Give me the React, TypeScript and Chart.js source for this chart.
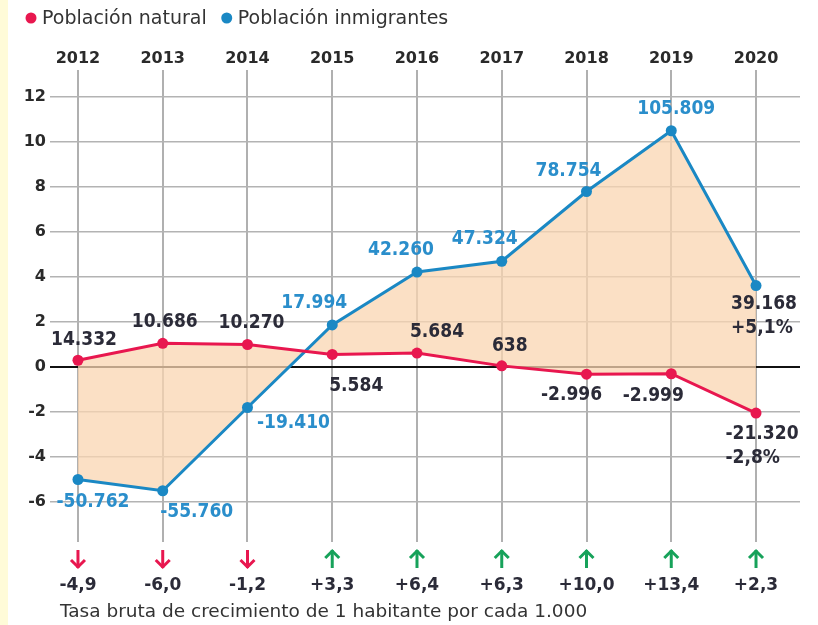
import React, { useEffect, useRef } from "react";
import { Chart, registerables } from "chart.js";

Chart.register(...registerables);

// ---------- data ----------
const years = ["2012", "2013", "2014", "2015", "2016", "2017", "2018", "2019", "2020"];
const natural = [0.3, 1.05, 1.0, 0.56, 0.62, 0.05, -0.32, -0.3, -2.05];
const immigrants = [-5.0, -5.5, -1.8, 1.87, 4.22, 4.7, 7.8, 10.5, 3.62];
const naturalLabels = [["14.332"], ["10.686"], ["10.270"], ["5.584"], ["5.684"], ["638"], ["-2.996"], ["-2.999"], ["-21.320", "-2,8%"]];
const immigrantLabels = [["-50.762"], ["-55.760"], ["-19.410"], ["17.994"], ["42.260"], ["47.324"], ["78.754"], ["105.809"], ["39.168", "+5,1%"]];
const growthRates = [-4.9, -6.0, -1.2, 3.3, 6.4, 6.3, 10.0, 13.4, 2.3];
const growthLabels = ["-4,9", "-6,0", "-1,2", "+3,3", "+6,4", "+6,3", "+10,0", "+13,4", "+2,3"];
const yTicks = [-6, -4, -2, 0, 2, 4, 6, 8, 10, 12];
const legendNames = ["Población natural", "Población inmigrantes"];
const footnote = "Tasa bruta de crecimiento de 1 habitante por cada 1.000";

// ---------- styling ----------
const RED = "#e8174f";
const BLUE = "#1a88c4";
const BLUE_TEXT = "#2a8ecb";
const DARK = "#2b2b38";
const GREEN = "#17a25a";
const FILL = "rgba(250,214,178,0.75)";
const FONT = '"DejaVu Sans", sans-serif';
const LABEL_FONT = 'bold 19px "DejaVu Sans Condensed", "DejaVu Sans", sans-serif';

// label offsets (dx, dy) of first line centre relative to the point
const naturalOffsets = [[6, -20], [2, -21], [4, -21], [24, 32], [20, -21], [8, -20], [-15, 21], [-18, 22], [6, 21]];
const immigrantOffsets = [[15, 23], [34, 21], [46, 16], [-18, -22], [-16, -22], [-17, -22], [-18, -20], [5, -22], [8, 19]];

const decorPlugin = {
  id: "decor",
  beforeDraw(chart: any) {
    const { ctx, width, height } = chart;
    ctx.save();
    ctx.fillStyle = "#ffffff";
    ctx.fillRect(0, 0, width, height);
    ctx.fillStyle = "#fffbd8";
    ctx.fillRect(0, 0, 8, height);
    ctx.restore();
  },
  afterDatasetsDraw(chart: any) {
    const ctx = chart.ctx;
    ctx.save();
    ctx.font = LABEL_FONT;
    ctx.textBaseline = "middle";
    const drawSet = (dsIndex: number, labels: string[][], offsets: number[][], color: string, lastColor: string) => {
      const meta = chart.getDatasetMeta(dsIndex);
      meta.data.forEach((pt: any, i: number) => {
        const lines = labels[i];
        const [dx, dy] = offsets[i];
        ctx.fillStyle = lines.length > 1 ? lastColor : color;
        if (lines.length > 1) {
          const w0 = ctx.measureText(lines[0]).width;
          const x0 = pt.x + dx - w0 / 2;
          ctx.textAlign = "left";
          lines.forEach((ln, k) => ctx.fillText(ln, x0, pt.y + dy + k * 24));
        } else {
          ctx.textAlign = "center";
          ctx.fillText(lines[0], pt.x + dx, pt.y + dy);
        }
      });
    };
    drawSet(0, naturalLabels, naturalOffsets, DARK, DARK);
    drawSet(1, immigrantLabels, immigrantOffsets, BLUE_TEXT, DARK);
    ctx.restore();
  },
  afterDraw(chart: any) {
    const ctx = chart.ctx;
    const xs = chart.scales.x;
    ctx.save();
    // legend
    ctx.font = "19px " + FONT;
    ctx.textBaseline = "middle";
    ctx.textAlign = "left";
    let lx = 31;
    [RED, BLUE].forEach((c, i) => {
      ctx.fillStyle = c;
      ctx.beginPath();
      ctx.arc(lx, 18, 5.5, 0, Math.PI * 2);
      ctx.fill();
      ctx.fillStyle = "#333";
      ctx.fillText(legendNames[i], lx + 11, 19);
      lx += 11 + ctx.measureText(legendNames[i]).width + 20;
    });
    // arrows + values
    growthRates.forEach((r, i) => {
      const x = xs.getPixelForValue(i);
      const up = r >= 0;
      ctx.strokeStyle = up ? GREEN : RED;
      ctx.lineWidth = 3;
      ctx.lineCap = "butt";
      ctx.lineJoin = "miter";
      ctx.beginPath();
      ctx.moveTo(x, 550);
      ctx.lineTo(x, 568);
      ctx.stroke();
      ctx.beginPath();
      if (up) {
        ctx.moveTo(x - 7, 558);
        ctx.lineTo(x, 551);
        ctx.lineTo(x + 7, 558);
      } else {
        ctx.moveTo(x - 7, 560);
        ctx.lineTo(x, 567);
        ctx.lineTo(x + 7, 560);
      }
      ctx.stroke();
      ctx.fillStyle = DARK;
      ctx.font = "bold 17px " + FONT;
      ctx.textAlign = "center";
      ctx.fillText(growthLabels[i], x, 586);
    });
    // footnote
    ctx.font = "18.5px " + FONT;
    ctx.fillStyle = "#333";
    ctx.textAlign = "left";
    ctx.fillText(footnote, 60, 612);
    ctx.restore();
  },
};

export default function App() {
  const ref = useRef<HTMLCanvasElement>(null);
  useEffect(() => {
    const canvas = ref.current!;
    const chart = new Chart(canvas, {
      type: "line",
      data: {
        datasets: [
          {
            label: legendNames[0],
            data: natural.map((v, i) => ({ x: i, y: v })),
            borderColor: RED,
            backgroundColor: RED,
            pointBackgroundColor: RED,
            pointBorderWidth: 0,
            pointRadius: 5.5,
            borderWidth: 3,
            tension: 0,
            fill: false,
          },
          {
            label: legendNames[1],
            data: immigrants.map((v, i) => ({ x: i, y: v })),
            borderColor: BLUE,
            backgroundColor: FILL,
            pointBackgroundColor: BLUE,
            pointBorderWidth: 0,
            pointRadius: 5.5,
            borderWidth: 3,
            tension: 0,
            fill: { target: 0 },
          },
        ],
      },
      options: {
        responsive: false,
        animation: false,
        layout: { padding: { left: 0, right: 18, top: 0, bottom: 83 } },
        plugins: { legend: { display: false }, tooltip: { enabled: false } },
        scales: {
          x: {
            type: "linear",
            position: "top",
            min: -0.33,
            max: 8.519,
            afterBuildTicks: (s: any) => {
              s.ticks = years.map((_, i) => ({ value: i }));
            },
            afterFit: (s: any) => {
              s.height = 70;
            },
            ticks: {
              callback: (v: any) => years[v as number],
              padding: 2,
              autoSkip: false,
              maxRotation: 0,
              color: "#2a2a2a",
              font: { family: FONT, size: 16, weight: "bold" },
            },
            grid: { color: "#b0b0b0", lineWidth: 2, drawTicks: false },
            border: { display: false },
          },
          y: {
            type: "linear",
            min: -7.778,
            max: 13.2,
            afterBuildTicks: (s: any) => {
              s.ticks = yTicks.map((v) => ({ value: v }));
            },
            afterFit: (s: any) => {
              s.width = 50;
            },
            ticks: {
              padding: 4,
              color: "#2a2a2a",
              font: { family: FONT, size: 16, weight: "bold" },
            },
            grid: {
              color: (c: any) => (c.tick && c.tick.value === 0 ? "#111" : "#b3b3b3"),
              lineWidth: (c: any) => (c.tick && c.tick.value === 0 ? 2 : 1.5),
              drawTicks: false,
            },
            border: { display: false },
          },
        },
      },
      plugins: [decorPlugin],
    });
    return () => chart.destroy();
  }, []);
  return (
    <div style={{ position: "absolute", left: 0, top: 0, width: 818, height: 625, background: "#fff" }}>
      <canvas ref={ref} width={818} height={625} style={{ display: "block" }} />
    </div>
  );
}
